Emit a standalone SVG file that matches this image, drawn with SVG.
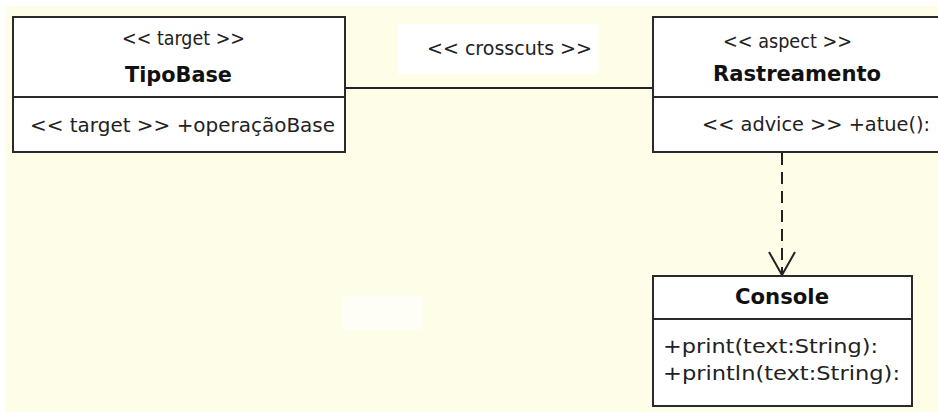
<svg xmlns="http://www.w3.org/2000/svg" width="938" height="412" viewBox="0 0 938 412">
  <style>
    .box { fill: #ffffff; stroke: #2a2a2a; stroke-width: 2; }
    .div { stroke: #2a2a2a; stroke-width: 2; }
    .t { font-family: "DejaVu Sans", "Liberation Sans", sans-serif; font-size: 20px; fill: #222; }
    .b { font-family: "DejaVu Sans", "Liberation Sans", sans-serif; font-size: 22px; font-weight: bold; fill: #111; }
    .conn { stroke: #222; stroke-width: 2; fill: none; }
  </style>
  <rect x="0" y="0" width="938" height="412" fill="#ffffff"/>
  <rect x="5" y="6" width="933" height="406" fill="#fefde8"/>
  <rect x="342" y="295" width="81" height="35" fill="#ffffff" opacity="0.6"/>

  <g id="connectors">
    <line class="conn" x1="345" y1="88" x2="653" y2="88"/>
    <g id="crosscuts-label">
      <rect x="398" y="24" width="200" height="50" fill="#ffffff"/>
      <text class="t" x="427" y="55" textLength="165" lengthAdjust="spacingAndGlyphs">&lt;&lt; crosscuts &gt;&gt;</text>
    </g>
    <line class="conn" x1="782" y1="153" x2="782" y2="274" stroke-dasharray="12 7"/>
    <polyline class="conn" points="769,252 782,275 795,252"/>
  </g>

  <g id="TipoBase">
    <rect class="box" x="13" y="17" width="332" height="135"/>
    <line class="div" x1="13" y1="97" x2="345" y2="97"/>
    <text class="t" x="122" y="45" textLength="123" lengthAdjust="spacingAndGlyphs">&lt;&lt; target &gt;&gt;</text>
    <text class="b" x="125" y="82" textLength="107" lengthAdjust="spacingAndGlyphs">TipoBase</text>
    <text class="t" x="30" y="132" textLength="305" lengthAdjust="spacingAndGlyphs">&lt;&lt; target &gt;&gt; +operaçãoBase</text>
  </g>

  <g id="Rastreamento">
    <rect class="box" x="653" y="17" width="300" height="135"/>
    <line class="div" x1="653" y1="97" x2="953" y2="97"/>
    <text class="t" x="723" y="48" textLength="129" lengthAdjust="spacingAndGlyphs">&lt;&lt; aspect &gt;&gt;</text>
    <text class="b" x="713" y="81" textLength="168" lengthAdjust="spacingAndGlyphs">Rastreamento</text>
    <text class="t" x="702" y="131" textLength="228" lengthAdjust="spacingAndGlyphs">&lt;&lt; advice &gt;&gt; +atue():</text>
  </g>

  <g id="Console">
    <rect class="box" x="653" y="276" width="259" height="130"/>
    <line class="div" x1="653" y1="319" x2="912" y2="319"/>
    <text class="b" x="735" y="304" textLength="94" lengthAdjust="spacingAndGlyphs">Console</text>
    <text class="t" x="663" y="353" textLength="215" lengthAdjust="spacingAndGlyphs">+print(text:String):</text>
    <text class="t" x="663" y="380" textLength="237" lengthAdjust="spacingAndGlyphs">+println(text:String):</text>
  </g>
</svg>
